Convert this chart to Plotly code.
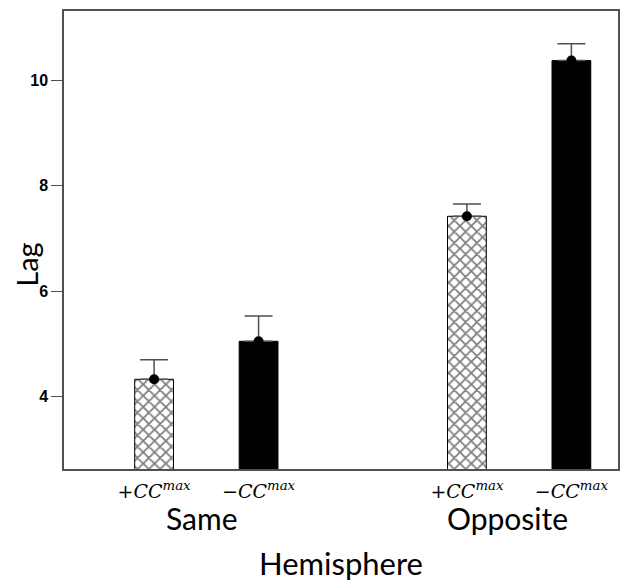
import plotly.graph_objects as go

# values
groups = ['Same', 'Opposite']
conditions = ['+CC', '\u2212CC']
plus_mean = [4.33, 7.42]
plus_top = [4.70, 7.65]
minus_mean = [5.05, 10.37]
minus_top = [5.53, 10.69]

plus_err = [t - m for t, m in zip(plus_top, plus_mean)]
minus_err = [t - m for t, m in zip(minus_top, minus_mean)]

offset = 0.167
bar_width = 0.124
group_pos = list(range(len(groups)))
plus_x = [g - offset for g in group_pos]
minus_x = [g + offset for g in group_pos]

font_main = 'Lato, Calibri, sans-serif'
axis_color = 'rgb(80, 80, 80)'

def cc_label(sign):
    return f'<i>{sign}</i><sup><i>max</i></sup>'

fig = go.Figure()

fig.add_trace(go.Bar(
    x = plus_x,
    y = plus_mean,
    width = bar_width,
    marker = dict(
        color = 'white',
        line = dict(color = 'black', width = 1),
        pattern = dict(shape = 'x', fgcolor = 'black', bgcolor = 'white', size = 8, solidity = 0.4)),
    showlegend = False))

fig.add_trace(go.Bar(
    x = minus_x,
    y = minus_mean,
    width = bar_width,
    marker = dict(color = 'black', line = dict(color = 'black', width = 1)),
    showlegend = False))

# mean dots with one-sided error bars
for xs, ys, errs in [(plus_x, plus_mean, plus_err), (minus_x, minus_mean, minus_err)]:
    fig.add_trace(go.Scatter(
        x = xs,
        y = ys,
        mode = 'markers',
        marker = dict(color = 'black', size = 10),
        error_y = dict(
            type = 'data',
            symmetric = False,
            array = errs,
            arrayminus = [0] * len(errs),
            color = axis_color,
            thickness = 1.5,
            width = 14),
        showlegend = False))

for g, name, shift in zip(group_pos, groups, [-4, -12]):
    fig.add_annotation(
        x = g,
        y = 0,
        xref = 'x',
        yref = 'paper',
        yanchor = 'middle',
        yshift = -49,
        xshift = shift,
        text = name,
        showarrow = False,
        font = dict(family = font_main, size = 30, color = 'black'))

fig.add_annotation(
    x = 0.5,
    y = 0,
    xref = 'paper',
    yref = 'paper',
    yanchor = 'middle',
    yshift = -94,
    text = 'Hemisphere',
    showarrow = False,
    font = dict(family = font_main, size = 31, color = 'black'))

fig.add_annotation(
    x = 0,
    y = 0.446,
    xref = 'paper',
    yref = 'paper',
    xanchor = 'center',
    yanchor = 'middle',
    xshift = -37,
    textangle = -90,
    text = 'Lag',
    showarrow = False,
    font = dict(family = font_main, size = 29, color = 'black'))

fig.update_xaxes(
    range = [-0.455, 1.316],
    tickmode = 'array',
    tickvals = plus_x + minus_x,
    ticktext = [cc_label(conditions[0])] * len(plus_x) + [cc_label(conditions[1])] * len(minus_x),
    tickfont = dict(family = 'DejaVu Serif', size = 19, color = 'black'),
    ticks = '',
    ticklabelstandoff = 4,
    showgrid = False,
    zeroline = False,
    showline = True,
    linecolor = axis_color,
    linewidth = 1.5,
    mirror = True)

fig.update_yaxes(
    range = [2.63, 11.31],
    tickvals = [4, 6, 8, 10],
    tickfont = dict(family = 'Liberation Sans', size = 16, color = 'black', weight = 'bold'),
    ticks = 'outside',
    ticklen = 11,
    tickcolor = axis_color,
    tickwidth = 1.2,
    showgrid = False,
    zeroline = False,
    showline = True,
    linecolor = axis_color,
    linewidth = 1.5,
    mirror = True)

fig.update_layout(
    width = 630,
    height = 584,
    plot_bgcolor = 'white',
    paper_bgcolor = 'white',
    barmode = 'overlay',
    margin = dict(l = 56, r = 20, t = 1, b = 123),
    showlegend = False)

fig.write_html('out.html')
